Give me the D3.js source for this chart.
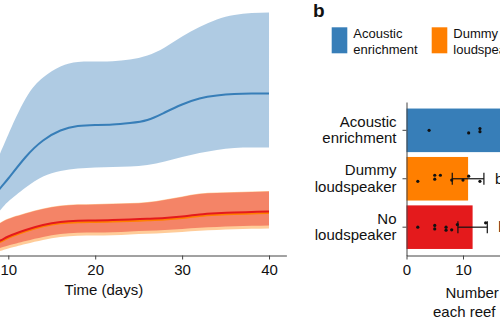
<!DOCTYPE html>
<html>
<head>
<meta charset="utf-8">
<script src="https://cdn.jsdelivr.net/npm/d3@7"></script>
<style>
  body { margin: 0; background: #fff; }
  svg { display: block; font-family: "Liberation Sans", Arial, sans-serif; }
  .axis path, .axis line { stroke: #444; stroke-width: 1; }
  .axis text { font-size: 15px; fill: #111; }
</style>
</head>
<body>
<svg id="chart" width="500" height="319"></svg>
<script>
// ---- panel a : time series (mean + interval) ----
const days = [1, 4, 7, 9, 10, 12, 14, 16, 18, 20, 22, 24, 26, 28, 30, 32, 34, 36, 38, 40];

const acousticMean = [0.5, 1.7, 4.4, 6.65, 7.7, 9.85, 11.5, 12.5, 12.95, 13.05, 13.1, 13.25, 13.55, 14.3, 15.1, 15.7, 16.0, 16.15, 16.2, 16.2];
const acousticHi   = [0.7, 2.5, 6.5, 10.1, 12.1, 15.7, 17.8, 18.9, 19.35, 19.4, 19.42, 19.6, 20.0, 20.8, 21.9, 22.85, 23.6, 24.05, 24.25, 24.3];
const acousticLo   = [0.2, 1.0, 2.7, 4.45, 5.4, 6.8, 7.9, 8.45, 8.7, 8.8, 8.85, 8.9, 9.05, 9.4, 9.85, 10.25, 10.55, 10.75, 10.8, 10.8];

const dummyMean = [0.08, 0.35, 0.8, 1.35, 1.77, 2.42, 2.92, 3.22, 3.33, 3.36, 3.4, 3.45, 3.52, 3.6, 3.75, 3.95, 4.07, 4.15, 4.2, 4.25];
const dummyHi   = [0.3, 1.25, 2.35, 3.25, 3.7, 4.25, 4.7, 5.0, 5.12, 5.15, 5.2, 5.25, 5.35, 5.6, 5.9, 6.2, 6.3, 6.35, 6.4, 6.45];
const dummyLo   = [0.0, 0.05, 0.2, 0.45, 0.7, 1.15, 1.55, 1.85, 1.97, 2.0, 2.03, 2.1, 2.17, 2.25, 2.35, 2.47, 2.55, 2.62, 2.67, 2.7];

const noneMean = [0.1, 0.4, 0.9, 1.47, 1.9, 2.55, 3.05, 3.35, 3.47, 3.5, 3.55, 3.6, 3.67, 3.75, 3.9, 4.1, 4.22, 4.3, 4.35, 4.4];
const noneHi   = [0.3, 1.2, 2.3, 3.2, 3.65, 4.2, 4.65, 4.95, 5.07, 5.1, 5.15, 5.2, 5.3, 5.55, 5.85, 6.15, 6.25, 6.3, 6.35, 6.4];
const noneLo   = [0.02, 0.15, 0.4, 0.75, 1.0, 1.45, 1.85, 2.15, 2.27, 2.3, 2.33, 2.4, 2.47, 2.55, 2.65, 2.77, 2.85, 2.92, 2.97, 3.0];

const timeTicks = [0, 10, 20, 30, 40];

// ---- panel b : bars ----
const groups = ["Acoustic enrichment", "Dummy loudspeaker", "No loudspeaker"];
const groupLines = [["Acoustic", "enrichment"], ["Dummy", "loudspeaker"], ["No", "loudspeaker"]];
const groupColors = ["#377eb8", "#ff7f00", "#e41a1c"];
const barMeans = [21, 10.9, 11.7];
const barErr = [3.2, 2.8, 2.6];
const sigLetters = ["a", "b", "b"];
const reefCounts = [
  [4, 11, 13, 13, 18, 21, 24, 27],
  [2, 5, 5, 6, 8, 10, 11, 13],
  [2, 5, 5, 7, 7, 8, 9, 14]
];
// vertical jitter, as a fraction of the bar height
const reefJitter = [
  [0, 0.06, -0.04, 0.03, 0, -0.05, 0.04, -0.02],
  [0.06, -0.08, 0.01, -0.08, 0.03, 0.03, -0.06, 0.06],
  [0, -0.04, 0.04, 0, 0.07, 0.06, -0.06, -0.1]
];
const countTicks = [0, 10, 20];

const svg = d3.select("#chart");

// ================= panel a =================
const x = d3.scaleLinear().domain([0, 42]).range([-78.6, 286.4]);
const y = d3.scaleLinear().domain([0, 25]).range([255.5, 5.5]);

const series = [
  { name: "dummy", color: groupColors[1], mean: dummyMean, lo: dummyLo, hi: dummyHi },
  { name: "none", color: groupColors[2], mean: noneMean, lo: noneLo, hi: noneHi },
  { name: "acoustic", color: groupColors[0], mean: acousticMean, lo: acousticLo, hi: acousticHi }
];

const area = d3.area()
  .x((d, i) => x(days[i]))
  .y0(d => y(d[0]))
  .y1(d => y(d[1]))
  .curve(d3.curveNatural);

const line = d3.line()
  .x((d, i) => x(days[i]))
  .y(d => y(d))
  .curve(d3.curveNatural);

const gA = svg.append("g");

gA.selectAll("path.band")
  .data(series)
  .enter()
  .append("path")
  .attr("class", "band")
  .attr("d", s => area(s.lo.map((v, i) => [v, s.hi[i]])))
  .attr("fill", s => s.color)
  .attr("fill-opacity", 0.4);

// lines: acoustic, then dummy under none
gA.selectAll("path.mean")
  .data([series[2], series[0], series[1]])
  .enter()
  .append("path")
  .attr("class", "mean")
  .attr("d", s => line(s.mean))
  .attr("fill", "none")
  .attr("stroke", s => s.color)
  .attr("stroke-width", 2);

gA.append("g")
  .attr("class", "axis")
  .attr("transform", "translate(0,255.5)")
  .call(d3.axisBottom(x).tickValues(timeTicks).tickSize(4).tickSizeOuter(0).tickPadding(5));

gA.append("text")
  .attr("x", x(21))
  .attr("y", 295)
  .attr("text-anchor", "middle")
  .style("font-size", "15px")
  .attr("fill", "#111")
  .text("Time (days)");

// ================= panel b =================
const xb = d3.scaleLinear().domain([0, 20]).range([406.5, 519.5]);
const yb = d3.scaleBand().domain(groups).range([102, 255.5]).paddingInner(0.1).paddingOuter(0.135);

const gB = svg.append("g");

gB.append("text")
  .attr("x", 313)
  .attr("y", 16.5)
  .style("font-size", "19px")
  .style("font-weight", "bold")
  .attr("fill", "#111")
  .text("b");

// legend
const leg = gB.selectAll("g.legend")
  .data(groups)
  .enter()
  .append("g")
  .attr("class", "legend")
  .attr("transform", (d, i) => "translate(" + (331.7 + i * 100) + ",27.3)");

leg.append("rect")
  .attr("width", 15.6)
  .attr("height", 26)
  .attr("fill", (d, i) => groupColors[i]);

leg.append("text")
  .attr("x", 21.6)
  .style("font-size", "13px")
  .attr("fill", "#111")
  .selectAll("tspan")
  .data((d, i) => groupLines[i])
  .enter()
  .append("tspan")
  .attr("x", 21.6)
  .attr("y", (d, j) => 11 + j * 16)
  .text(d => d);

// bars
gB.selectAll("rect.bar")
  .data(groups)
  .enter()
  .append("rect")
  .attr("class", "bar")
  .attr("x", xb(0))
  .attr("y", d => yb(d))
  .attr("width", (d, i) => xb(barMeans[i]) - xb(0))
  .attr("height", yb.bandwidth())
  .attr("fill", (d, i) => groupColors[i]);

// points
groups.forEach((g, i) => {
  gB.selectAll("circle.p" + i)
    .data(reefCounts[i])
    .enter()
    .append("circle")
    .attr("class", "p" + i)
    .attr("cx", d => xb(d))
    .attr("cy", (d, j) => yb(g) + yb.bandwidth() / 2 + reefJitter[i][j] * yb.bandwidth())
    .attr("r", 1.6)
    .attr("fill", "#111");
});

// error bars
const eb = gB.selectAll("g.err")
  .data(groups)
  .enter()
  .append("g")
  .attr("class", "err")
  .attr("transform", d => "translate(0," + (yb(d) + yb.bandwidth() / 2) + ")");

eb.append("line")
  .attr("x1", (d, i) => xb(barMeans[i] - barErr[i]))
  .attr("x2", (d, i) => xb(barMeans[i] + barErr[i]))
  .attr("stroke", "#111").attr("stroke-width", 1.2);

[-1, 1].forEach(s => {
  eb.append("line")
    .attr("x1", (d, i) => xb(barMeans[i] + s * barErr[i]))
    .attr("x2", (d, i) => xb(barMeans[i] + s * barErr[i]))
    .attr("y1", -6).attr("y2", 6)
    .attr("stroke", "#111").attr("stroke-width", 1.2);
});

eb.append("text")
  .attr("x", (d, i) => xb(barMeans[i] + barErr[i]) + 11)
  .attr("y", 5)
  .style("font-size", "15px")
  .attr("fill", "#111")
  .text((d, i) => sigLetters[i]);

// axes
gB.append("g")
  .attr("class", "axis")
  .attr("transform", "translate(406.5,0)")
  .call(d3.axisLeft(yb).tickSize(4).tickSizeOuter(0).tickFormat(""));

gB.selectAll("text.cat")
  .data(groups)
  .enter()
  .append("text")
  .attr("class", "cat")
  .attr("text-anchor", "end")
  .style("font-size", "15px")
  .attr("fill", "#111")
  .selectAll("tspan")
  .data((d, i) => groupLines[i].map(t => [t, yb(d) + yb.bandwidth() / 2]))
  .enter()
  .append("tspan")
  .attr("x", 396.5)
  .attr("y", (d, j) => d[1] - 3.5 + j * 16.5)
  .text(d => d[0]);

gB.append("g")
  .attr("class", "axis")
  .attr("transform", "translate(0,255.5)")
  .call(d3.axisBottom(xb).tickValues(countTicks).tickSize(4).tickSizeOuter(0).tickPadding(5));

gB.append("text")
  .style("font-size", "15px")
  .attr("fill", "#111")
  .selectAll("tspan")
  .data([["Number of species", 445.5, 298], ["each reef", 433, 316.5]])
  .enter()
  .append("tspan")
  .attr("x", d => d[1])
  .attr("y", d => d[2])
  .text(d => d[0]);
</script>
</body>
</html>
